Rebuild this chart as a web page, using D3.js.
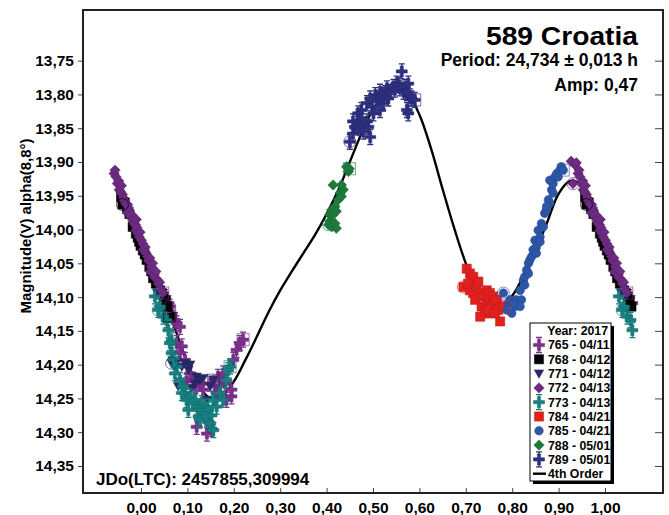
<!DOCTYPE html>
<html>
<head>
<meta charset="utf-8">
<script src="https://cdn.jsdelivr.net/npm/d3@7"></script>
<style>
  body { margin: 0; background: #fff; }
  svg { display: block; }
  text { font-family: "Liberation Sans", Arial, sans-serif; font-weight: bold; fill: #000; }
</style>
</head>
<body>
<svg id="chart" width="669" height="515"></svg>
<script>
// ---- Axis ticks ----
const xTicks = [0, 0.1, 0.2, 0.3, 0.4, 0.5, 0.6, 0.7, 0.8, 0.9, 1.0];
const xTickLabels = ["0,00", "0,10", "0,20", "0,30", "0,40", "0,50", "0,60", "0,70", "0,80", "0,90", "1,00"];
const yTicks = [13.75, 13.80, 13.85, 13.90, 13.95, 14.00, 14.05, 14.10, 14.15, 14.20, 14.25, 14.30, 14.35];
const yTickLabels = ["13,75", "13,80", "13,85", "13,90", "13,95", "14,00", "14,05", "14,10", "14,15", "14,20", "14,25", "14,30", "14,35"];

// ---- Photometry sessions: [phase, magnitude] ----
const s765 = [[0.062,14.114],[0.059,14.109],[0.073,14.134],[0.077,14.139],[0.084,14.144],[0.077,14.168],[0.088,14.173],
  [0.084,14.183],[0.095,14.193],[0.098,14.225],[0.106,14.213],[0.113,14.223],[0.117,14.232],[0.127,14.228],[0.134,14.237],
  [0.149,14.228],[0.159,14.232],[0.163,14.242],[0.166,14.218],[0.170,14.232],[0.177,14.213],[0.181,14.228],[0.184,14.252],
  [0.195,14.247],[0.195,14.237],[0.199,14.193],[0.206,14.178],[0.213,14.168],[0.120,14.292],[0.142,14.302],[0.152,14.295],
  [0.145,14.285],[0.052,14.100],[0.066,14.125],[0.220,14.163]];
const s768 = [[0.960,13.963],[0.957,13.952],[0.965,13.960],[0.970,13.969],[0.975,13.977],[0.982,13.996],[0.985,13.989],
  [0.989,14.006],[0.993,14.012],[0.996,14.018],[0.999,14.024],[0.004,14.031],[0.008,14.037],[0.012,14.045],[0.018,14.055],
  [0.022,14.062],[0.026,14.072],[0.032,14.080],[0.036,14.084],[0.041,14.090],[0.045,14.094],[0.049,14.099],[0.053,14.106],
  [0.057,14.114],[0.062,14.128]];
const s771 = [[0.066,14.198],[0.077,14.196],[0.088,14.203],[0.095,14.198],[0.102,14.208],[0.106,14.200],[0.080,14.232],
  [0.088,14.225],[0.109,14.235],[0.117,14.228],[0.120,14.218],[0.127,14.223],[0.134,14.220],[0.142,14.252],[0.149,14.232],
  [0.156,14.223]];
const s772 = [[0.931,13.932],[0.927,13.899],[0.935,13.904],[0.938,13.901],[0.942,13.917],[0.944,13.912],[0.946,13.922],
  [0.949,13.932],[0.952,13.928],[0.953,13.941],[0.956,13.944],[0.958,13.935],[0.960,13.948],[0.962,13.953],[0.964,13.957],
  [0.967,13.962],[0.970,13.975],[0.971,13.963],[0.973,13.968],[0.975,13.973],[0.978,13.981],[0.980,13.978],[0.982,13.986],
  [0.985,13.991],[0.988,13.993],[0.990,13.985],[0.989,14.001],[0.991,13.997],[0.993,14.006],[0.996,14.011],[0.998,14.004],
  [0.001,14.016],[0.004,14.021],[0.005,14.030],[0.007,14.028],[0.009,14.026],[0.011,14.035],[0.014,14.040],[0.016,14.046],
  [0.019,14.042],[0.020,14.062],[0.022,14.055],[0.025,14.050],[0.026,14.060],[0.029,14.066],[0.030,14.071],[0.032,14.062],
  [0.036,14.075],[0.037,14.080],[0.040,14.078],[0.043,14.089],[0.047,14.094]];
const s773 = [[0.037,14.119],[0.030,14.099],[0.041,14.114],[0.048,14.129],[0.055,14.134],[0.059,14.149],[0.066,14.164],
  [0.062,14.168],[0.066,14.183],[0.070,14.190],[0.077,14.203],[0.073,14.213],[0.084,14.223],[0.091,14.232],[0.095,14.242],
  [0.098,14.252],[0.106,14.247],[0.113,14.257],[0.120,14.262],[0.127,14.267],[0.124,14.277],[0.134,14.272],[0.142,14.282],
  [0.149,14.287],[0.138,14.262],[0.156,14.252],[0.163,14.262],[0.177,14.252],[0.184,14.223],[0.188,14.208],[0.117,14.252],
  [0.088,14.242],[0.102,14.267],[0.131,14.257],[0.145,14.267],[0.152,14.275],[0.170,14.242],[0.127,14.282],[0.156,14.297],
  [0.192,14.203]];
const s784 = [[0.695,14.085],[0.702,14.058],[0.709,14.065],[0.712,14.075],[0.716,14.070],[0.705,14.080],[0.709,14.090],
  [0.716,14.094],[0.723,14.085],[0.727,14.077],[0.720,14.104],[0.731,14.094],[0.738,14.099],[0.745,14.090],[0.752,14.094],
  [0.734,14.114],[0.745,14.109],[0.752,14.104],[0.759,14.099],[0.756,14.114],[0.763,14.109],[0.767,14.104],[0.774,14.114],
  [0.741,14.124],[0.752,14.124],[0.770,14.119],[0.774,14.136],[0.731,14.129],[0.749,14.119],[0.763,14.124],[0.781,14.114]];
const s785 = [[0.781,14.094],[0.788,14.119],[0.792,14.109],[0.795,14.104],[0.799,14.124],[0.806,14.114],[0.809,14.104],
  [0.817,14.090],[0.820,14.104],[0.824,14.075],[0.827,14.070],[0.831,14.060],[0.835,14.065],[0.835,14.050],[0.838,14.045],
  [0.842,14.040],[0.845,14.030],[0.849,14.016],[0.852,14.026],[0.856,14.001],[0.860,14.011],[0.863,13.991],[0.867,13.996],
  [0.870,13.976],[0.874,13.971],[0.878,13.956],[0.881,13.961],[0.885,13.941],[0.888,13.932],[0.881,13.927],[0.892,13.922],
  [0.896,13.917],[0.899,13.922],[0.903,13.912],[0.906,13.907],[0.874,13.966],[0.860,14.018],[0.852,14.035],[0.827,14.082],
  [0.817,14.114],[0.803,14.109],[0.888,13.946],[0.910,13.912]];
const s788 = [[0.404,13.993],[0.407,13.988],[0.411,13.996],[0.407,13.978],[0.414,13.978],[0.418,13.991],[0.421,13.998],
  [0.411,13.971],[0.418,13.966],[0.425,13.956],[0.421,13.973],[0.429,13.946],[0.432,13.951],[0.436,13.941],[0.414,13.934],
  [0.432,13.934],[0.443,13.907],[0.447,13.914],[0.449,13.910]];
const s789 = [[0.450,13.870],[0.457,13.858],[0.457,13.840],[0.461,13.848],[0.468,13.843],[0.468,13.828],[0.472,13.850],
  [0.475,13.835],[0.475,13.823],[0.479,13.855],[0.487,13.840],[0.487,13.813],[0.490,13.848],[0.494,13.863],[0.498,13.818],
  [0.501,13.828],[0.505,13.801],[0.509,13.808],[0.515,13.796],[0.519,13.803],[0.515,13.823],[0.526,13.798],[0.530,13.791],
  [0.533,13.806],[0.537,13.796],[0.544,13.789],[0.547,13.793],[0.551,13.784],[0.555,13.786],[0.558,13.791],[0.562,13.766],
  [0.566,13.796],[0.569,13.789],[0.573,13.798],[0.576,13.784],[0.580,13.803],[0.573,13.823],[0.576,13.828],[0.583,13.806],
  [0.494,13.806],[0.522,13.813],[0.590,13.808]];

// ---- 4th order Fourier fit, sampled in phase ----
const fitCurve = [[-0.05,13.935],[-0.025,13.968],[0,14.015],[0.025,14.058],[0.05,14.100],[0.075,14.150],[0.1,14.197],
  [0.125,14.232],[0.15,14.250],[0.175,14.245],[0.2,14.225],[0.225,14.193],[0.25,14.158],[0.275,14.122],[0.3,14.090],
  [0.325,14.062],[0.35,14.035],[0.375,14.008],[0.4,13.977],[0.425,13.942],[0.45,13.900],[0.475,13.858],[0.5,13.822],
  [0.525,13.801],[0.55,13.794],[0.575,13.800],[0.6,13.830],[0.625,13.880],[0.65,13.940],[0.675,13.998],[0.7,14.050],
  [0.725,14.090],[0.75,14.110],[0.775,14.113],[0.8,14.098],[0.825,14.068],[0.85,14.032],[0.875,13.990],[0.9,13.947],
  [0.925,13.928],[0.95,13.935],[0.975,13.970],[1.0,14.015],[1.025,14.058],[1.05,14.100]];

const sessions = [
  { label: "765 - 04/11", color: "#7d2f8e", shape: "plus",    data: s765 },
  { label: "768 - 04/12", color: "#000000", shape: "square",  data: s768 },
  { label: "771 - 04/12", color: "#28296b", shape: "tri",     data: s771 },
  { label: "772 - 04/13", color: "#6c2a80", shape: "diamond", data: s772 },
  { label: "773 - 04/13", color: "#168181", shape: "plus",    data: s773 },
  { label: "784 - 04/21", color: "#e4201f", shape: "square",  data: s784 },
  { label: "785 - 04/21", color: "#2c56a7", shape: "circle",  data: s785 },
  { label: "788 - 05/01", color: "#1c7b3c", shape: "diamond", data: s788 },
  { label: "789 - 05/01", color: "#2e3081", shape: "plus",    data: s789 }
];

const frame = { left: 83, top: 10, right: 663, bottom: 493 };

const x = d3.scaleLinear().domain([-0.125, 1.125]).range([frame.left, frame.right]);
const y = d3.scaleLinear().domain([13.675, 14.39]).range([frame.top, frame.bottom]);

const svg = d3.select("#chart");

// Marker outlines centred on the origin
function markerPath(shape) {
  switch (shape) {
    case "plus":    return "M-1.6,-5.5H1.6V-1.6H5.5V1.6H1.6V5.5H-1.6V1.6H-5.5V-1.6H-1.6Z";
    case "square":  return "M-4.6,-4.6H4.6V4.6H-4.6Z";
    case "tri":     return "M-4.7,-3.7H4.7L0,4.7Z";
    case "diamond": return "M0,-5.2L5.2,0L0,5.2L-5.2,0Z";
    case "circle":  return "M4.3,0A4.3,4.3 0 1 1 -4.3,0A4.3,4.3 0 1 1 4.3,0Z";
  }
}
function drawMarker(g, shape, color, cx, cy) {
  const m = g.append("g").attr("transform", `translate(${cx},${cy})`);
  if (shape === "plus") {
    m.append("path").attr("d", "M0,-7.5V7.5M-3,-7.5H3M-3,7.5H3")
      .attr("stroke", color).attr("stroke-width", 1.3).attr("fill", "none");
  }
  m.append("path").attr("d", markerPath(shape)).attr("fill", color)
    .attr("stroke", d3.color(color).darker(0.6)).attr("stroke-width", 0.5);
}

// Phase-folded copies inside the plotted window
function copies(p) { return [p - 1, p, p + 1].filter(q => q >= -0.06 && q <= 1.06); }

const plot = svg.append("g");

// Fit curve, beneath the measurements
plot.append("path").datum(fitCurve)
  .attr("d", d3.line().x(d => x(d[0])).y(d => y(d[1])).curve(d3.curveCatmullRom.alpha(0.5)))
  .attr("fill", "none").attr("stroke", "#000").attr("stroke-width", 2.4);

// Data points
sessions.forEach(s => {
  const g = plot.append("g");
  s.data.forEach(d => {
    copies(d[0]).forEach(p => drawMarker(g, s.shape, s.color, x(p), y(d[1])));
  });
});

// Start (circle) and end (square) of each session, open markers
sessions.forEach(s => {
  const first = s.data[0], last = s.data[s.data.length - 1];
  copies(first[0]).forEach(p => {
    plot.append("circle").attr("cx", x(p)).attr("cy", y(first[1])).attr("r", 6)
      .attr("fill", "none").attr("stroke", s.color).attr("stroke-opacity", 0.65).attr("stroke-width", 1);
  });
  copies(last[0]).forEach(p => {
    plot.append("rect").attr("x", x(p) - 6).attr("y", y(last[1]) - 6).attr("width", 12).attr("height", 12)
      .attr("fill", "none").attr("stroke", s.color).attr("stroke-opacity", 0.65).attr("stroke-width", 1);
  });
});

// Axes
const yAxis = svg.append("g").attr("transform", `translate(${frame.left},0)`)
  .call(d3.axisLeft(y).tickValues(yTicks).tickFormat((d, i) => yTickLabels[i]).tickSize(5).tickPadding(4).tickSizeOuter(0));
yAxis.select(".domain").remove();
yAxis.selectAll("line").attr("stroke", "#444").attr("stroke-width", 1);
yAxis.selectAll("text").style("font-size", "15.5px").style("font-family", "Liberation Sans, Arial, sans-serif")
  .style("font-weight", "bold").attr("fill", "#000");

const xAxis = svg.append("g").attr("transform", `translate(0,${frame.bottom})`)
  .call(d3.axisBottom(x).tickValues(xTicks).tickFormat((d, i) => xTickLabels[i]).tickSize(-5).tickSizeOuter(0));
xAxis.select(".domain").remove();
xAxis.selectAll("line").attr("stroke", "#444").attr("stroke-width", 1);
xAxis.selectAll("text").attr("y", 20).attr("dy", 0).style("font-size", "15.5px")
  .style("font-family", "Liberation Sans, Arial, sans-serif").style("font-weight", "bold").attr("fill", "#000");

const rAxis = svg.append("g").attr("transform", `translate(${frame.right},0)`)
  .call(d3.axisRight(y).tickValues(yTicks).tickFormat("").tickSize(-8).tickSizeOuter(0));
rAxis.select(".domain").remove();
rAxis.selectAll("line").attr("stroke", "#444").attr("stroke-width", 1);

// Plot frame
svg.append("rect").attr("x", frame.left).attr("y", frame.top)
  .attr("width", frame.right - frame.left).attr("height", frame.bottom - frame.top)
  .attr("fill", "none").attr("stroke", "#222").attr("stroke-width", 2);

// Axis title
svg.append("text").attr("transform", "translate(31,226) rotate(-90)").attr("text-anchor", "middle")
  .style("font-size", "15px").text("Magnitude(V) alpha(8,8°)");

// Titles
svg.append("text").attr("x", 638).attr("y", 45).attr("text-anchor", "end")
  .style("font-size", "25px").attr("textLength", 152).attr("lengthAdjust", "spacingAndGlyphs").text("589 Croatia");
svg.append("text").attr("x", 638).attr("y", 66).attr("text-anchor", "end")
  .style("font-size", "17.5px").text("Period: 24,734 ± 0,013 h");
svg.append("text").attr("x", 638).attr("y", 91).attr("text-anchor", "end")
  .style("font-size", "17.5px").text("Amp: 0,47");
svg.append("text").attr("x", 96).attr("y", 485)
  .style("font-size", "17px").text("JDo(LTC): 2457855,309994");

// Legend
const lg = { x: 530, y: 323, w: 81, h: 158 };
svg.append("rect").attr("x", lg.x + 3).attr("y", lg.y + 3).attr("width", lg.w).attr("height", lg.h).attr("fill", "#000");
svg.append("rect").attr("x", lg.x).attr("y", lg.y).attr("width", lg.w).attr("height", lg.h)
  .attr("fill", "#fff").attr("stroke", "#000").attr("stroke-width", 1);
svg.append("text").attr("x", 608).attr("y", 335).attr("text-anchor", "end").style("font-size", "12.3px").text("Year: 2017");
const rowStep = 14.3, row0 = 345;
sessions.forEach((s, i) => {
  const cy = row0 + i * rowStep;
  drawMarker(svg.append("g"), s.shape, s.color, 539, cy);
  svg.append("text").attr("x", 548).attr("y", cy + 4.4).style("font-size", "12.3px").text(s.label);
});
const fitRow = row0 + sessions.length * rowStep;
svg.append("line").attr("x1", 533).attr("x2", 546).attr("y1", fitRow).attr("y2", fitRow)
  .attr("stroke", "#000").attr("stroke-width", 2.4);
svg.append("text").attr("x", 548).attr("y", fitRow + 4.4).style("font-size", "12.3px").text("4th Order");
</script>
</body>
</html>
